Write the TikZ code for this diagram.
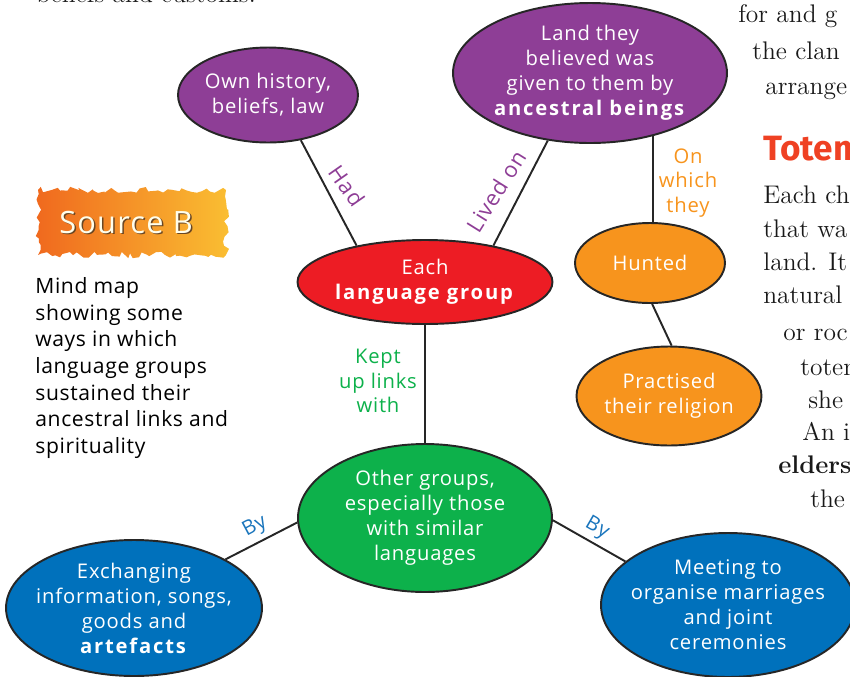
\documentclass[tikz,border=0pt]{standalone}
\usepackage{fontspec}
\newfontfamily\mapfont[LetterSpace=4,BoldFeatures={LetterSpace=9}]{Open Sans}
\newfontfamily\capfont[LetterSpace=3]{Open Sans}
\newfontfamily\headfont{Fira Sans}
\usepackage{tikz}
\usetikzlibrary{shapes.geometric}
\usetikzlibrary{decorations.pathmorphing}
\definecolor{mappurple}{RGB}{142,62,150}
\definecolor{mapred}{RGB}{237,28,36}
\definecolor{maporange}{RGB}{247,148,29}
\definecolor{mapgreen}{RGB}{13,177,75}
\definecolor{mapblue}{RGB}{0,113,188}
\definecolor{tagblue}{RGB}{26,117,188}
\definecolor{srcorange}{RGB}{240,105,30}
\definecolor{srcyellow}{RGB}{250,190,50}
\definecolor{totemred}{RGB}{239,65,35}

\begin{document}
\begin{tikzpicture}[x=0.02cm,y=-0.02cm,
	bubble/.style={ellipse,draw=black!85,line width=1.1pt,text=white,align=center,inner sep=-0.6cm,font=\mapfont\fontsize{11.5}{14.2}\selectfont},
	link/.style={draw=black!85,line width=1.1pt},
	tag/.style={align=center,font=\mapfont\fontsize{11.5}{13.8}\selectfont},
	pagetext/.style={anchor=base west,inner sep=0pt,text=black!90,font=\fontsize{14.5}{17}\selectfont}]
			\useasboundingbox (0,0) rectangle (850,677);
			\clip (0,0) rectangle (850,677);
			\node[bubble,fill=mappurple,minimum width=3.6cm,minimum height=1.9cm] (hist) at (268,95) {Own history,\\beliefs, law};
			\node[bubble,fill=mappurple,minimum width=5.48cm,minimum height=2.8cm] (land) at (590,73) {Land they\\believed was\\given to them by\\\textbf{ancestral beings}};
			\node[bubble,fill=mapred,minimum width=5.1cm,minimum height=1.68cm] (lang) at (425,282) {Each\\\textbf{language group}};
			\node[bubble,fill=maporange,minimum width=3cm,minimum height=1.6cm] (hunt) at (650,263) {Hunted};
			\node[bubble,fill=maporange,minimum width=3.7cm,minimum height=1.98cm] (relig) at (669,396) {Practised\\their religion};
			\node[bubble,fill=mapgreen,minimum width=5.08cm,minimum height=2.96cm] (other) at (425,518) {Other groups,\\especially those\\with similar\\languages};
			\node[bubble,fill=mapblue,minimum width=5.12cm,minimum height=2.72cm] (exch) at (134,608) {Exchanging\\information, songs,\\goods and\\\textbf{artefacts}};
			\node[bubble,fill=mapblue,minimum width=5.08cm,minimum height=2.88cm] (meet) at (728,605) {Meeting to\\organise marriages\\and joint\\ceremonies};
			\draw[link] (hist.-54) -- (lang.152);
			\draw[link] (land.-122) -- (lang.28);
			\draw[link] (land.-45) -- (land.-45 |- hunt.north);
			\draw[link] (hunt.-87) -- (relig.87);
			\draw[link] (lang.south) -- (other.north);
			\draw[link] (other.182) -- (exch.28);
			\draw[link] (other.-1) -- (meet.157);
			\node[tag,font=\mapfont\fontsize{12.5}{14}\selectfont,text=mappurple,rotate=-55] (had) at (347,186) {Had};
			\node[tag,font=\mapfont\fontsize{12.5}{14}\selectfont,text=mappurple,rotate=58] (livedon) at (496,191) {Lived on};
			\node[tag,text=maporange] (onwhich) at (688,183) {On\\which\\they};
			\node[tag,text=mapgreen] (kept) at (378,381) {Kept\\up links\\with};
			\node[tag,text=tagblue,rotate=28] (byleft) at (255,527) {By};
			\node[tag,text=tagblue,rotate=-30] (byright) at (597,528) {By};
			\pgfmathsetseed{7}
			\shade[left color=srcorange,right color=srcyellow,decorate,decoration={random steps,segment length=2.5pt,amplitude=1.8pt}] (38,190) rectangle (226,255);
			\node[font=\mapfont\fontsize{17.5}{17}\selectfont,text=brown!55!black] at (127.5,224) {Source B};
			\node[font=\mapfont\fontsize{17.5}{17}\selectfont,text=white!92!yellow] (srcb) at (126,222.5) {Source B};
			\node[anchor=north west,align=left,inner sep=0pt,font=\capfont\fontsize{12}{15.2}\selectfont] (caption) at (35,277) {Mind map\\showing some\\ways in which\\language groups\\sustained their\\ancestral links and\\spirituality};
			\node[pagetext] (top) at (36,2) {beliefs and customs.};
			\node[pagetext] (p1) at (738,22) {for and g};
			\node[pagetext] (p2) at (752,59) {the clan};
			\node[pagetext] (p3) at (765,94) {arrange};
			\node[anchor=base west,inner sep=0pt,text=totemred,font=\headfont\bfseries\fontsize{20}{20}\selectfont] (totem) at (763,160) {Totem};
			\node[pagetext] (q1) at (763,203) {Each ch};
			\node[pagetext] (q2) at (763,237) {that wa};
			\node[pagetext] (q3) at (763,270) {land. It};
			\node[pagetext] (q4) at (763,303) {natural};
			\node[pagetext] (q5) at (783,340) {or roc};
			\node[pagetext] (q6) at (800,375) {totem};
			\node[pagetext] (q7) at (808,408) {she s};
			\node[pagetext] (q8) at (802,440) {An i};
			\node[pagetext,font=\bfseries\fontsize{14.5}{17}\selectfont] (q9) at (778,473) {elders};
			\node[pagetext] (q10) at (810,507) {the};
		\end{tikzpicture}
\end{document}
